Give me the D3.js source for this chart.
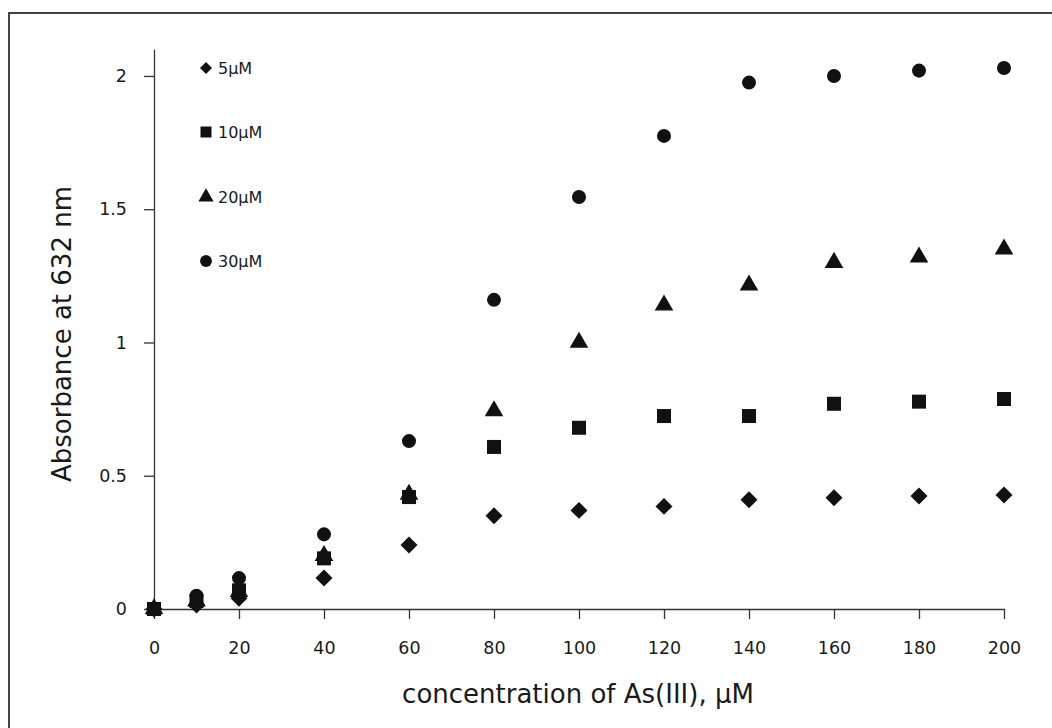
<!DOCTYPE html>
<html>
<head>
<meta charset="utf-8">
<script src="https://cdn.jsdelivr.net/npm/d3@7"></script>
<style>
  body { margin: 0; background: #fff; }
  svg { display: block; }
  text { font-family: "DejaVu Sans", Verdana, sans-serif; fill: #1a1a1a; }
  .axis path, .axis line { stroke: #333; stroke-width: 1.3; }
</style>
</head>
<body>
<svg width="1052" height="728"></svg>
<script>
const concentrations = [0, 10, 20, 40, 60, 80, 100, 120, 140, 160, 180, 200];
const seriesNames = ["5\u00b5M", "10\u00b5M", "20\u00b5M", "30\u00b5M"];
const abs5 = [0, 0.015, 0.04, 0.116, 0.24, 0.35, 0.37, 0.385, 0.41, 0.417, 0.424, 0.428];
const abs10 = [0, 0.03, 0.07, 0.19, 0.42, 0.608, 0.68, 0.724, 0.724, 0.77, 0.778, 0.788];
const abs20 = [0, 0.03, 0.065, 0.2, 0.43, 0.743, 1.0, 1.14, 1.215, 1.3, 1.32, 1.35];
const abs30 = [0, 0.05, 0.116, 0.28, 0.63, 1.16, 1.546, 1.775, 1.975, 2.0, 2.02, 2.03];
const xTicks = [0, 20, 40, 60, 80, 100, 120, 140, 160, 180, 200];
const yTicks = [0, 0.5, 1, 1.5, 2];

const svg = d3.select("svg");

// outer frame of the original figure (runs off the right/bottom edge)
svg.append("rect")
  .attr("x", 9).attr("y", 13)
  .attr("width", 1100).attr("height", 800)
  .attr("fill", "none")
  .attr("stroke", "#444")
  .attr("stroke-width", 2);

const x = d3.scaleLinear().domain([0, 200]).range([154, 1004]);
const y = d3.scaleLinear().domain([0, 2.1]).range([609, 49.3]);

// y axis
const yAxis = svg.append("g")
  .attr("class", "axis")
  .attr("transform", `translate(${x(0)},0)`)
  .call(d3.axisLeft(y).tickValues(yTicks).tickSize(10).tickSizeOuter(0).tickPadding(17)
    .tickFormat(d => String(d)));
yAxis.selectAll("text").style("font-size", "17.5px");

// x axis
const xAxis = svg.append("g")
  .attr("class", "axis")
  .attr("transform", `translate(0,${y(0)})`)
  .call(d3.axisBottom(x).tickValues(xTicks).tickSize(10).tickSizeOuter(0).tickPadding(23));
xAxis.selectAll("text").style("font-size", "17.5px");

// axis titles
svg.append("text")
  .attr("x", 578)
  .attr("y", 703)
  .attr("text-anchor", "middle")
  .style("font-size", "26px")
  .text("concentration of As(III), \u00b5M");

svg.append("text")
  .attr("transform", "translate(71,334) rotate(-90)")
  .attr("text-anchor", "middle")
  .style("font-size", "26px")
  .text("Absorbance at 632 nm");

// marker shapes, one per series
const shapes = [
  { type: d3.symbolSquare, size: 144, rotate: 45 },
  { type: d3.symbolSquare, size: 196, rotate: 0 },
  { type: d3.symbolTriangle, size: 150, rotate: 0 },
  { type: d3.symbolCircle, size: 154, rotate: 0 }
];
const legendShapes = [
  { type: d3.symbolSquare, size: 72, rotate: 45 },
  { type: d3.symbolSquare, size: 121, rotate: 0 },
  { type: d3.symbolTriangle, size: 100, rotate: 0 },
  { type: d3.symbolCircle, size: 110, rotate: 0 }
];

const allSeries = [abs5, abs10, abs20, abs30].map((vals, i) =>
  vals.map((v, j) => ({ c: concentrations[j], a: v, s: i })));

allSeries.forEach((pts, i) => {
  svg.append("g")
    .selectAll("path")
    .data(pts)
    .enter()
    .append("path")
    .attr("d", d3.symbol().type(shapes[i].type).size(shapes[i].size))
    .attr("transform", d => `translate(${x(d.c)},${y(d.a)}) rotate(${shapes[i].rotate})`)
    .attr("fill", "#111");
});

// legend
const legendY = [68, 132, 197, 261];
const legend = svg.append("g");
seriesNames.forEach((name, i) => {
  legend.append("path")
    .attr("d", d3.symbol().type(legendShapes[i].type).size(legendShapes[i].size))
    .attr("transform", `translate(206,${legendY[i]}) rotate(${legendShapes[i].rotate})`)
    .attr("fill", "#111");
  legend.append("text")
    .attr("x", 218)
    .attr("y", legendY[i])
    .attr("dy", "0.35em")
    .style("font-size", "16px")
    .text(name);
});
</script>
</body>
</html>
